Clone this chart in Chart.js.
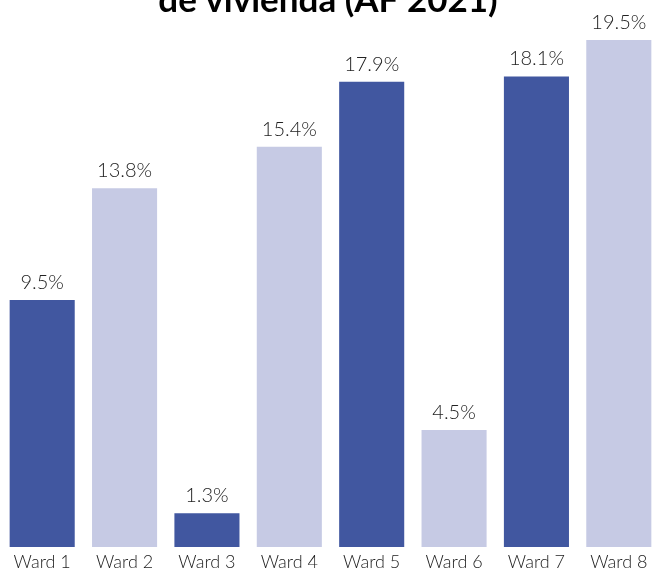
<!DOCTYPE html>
<html>
<head>
<meta charset="utf-8">
<script src="https://cdn.jsdelivr.net/npm/chart.js@4"></script>
<style>
  html, body { margin: 0; padding: 0; background: #fff; overflow: hidden; }
  #wrap { position: absolute; left: 0; top: 0; width: 660px; height: 571px; }
</style>
</head>
<body>
<div id="wrap"><canvas id="graphCanvas"></canvas></div>
<script>
var wards = ['Ward 1', 'Ward 2', 'Ward 3', 'Ward 4', 'Ward 5', 'Ward 6', 'Ward 7', 'Ward 8'];
var shares = [9.5, 13.8, 1.3, 15.4, 17.9, 4.5, 18.1, 19.5];
var titleText = 'de vivienda (AF 2021)';

var darkBlue = '#4157a0';
var lightBlue = '#c6cae4';
var barColors = [];
for (var i in wards) {
	barColors.push(i % 2 == 0 ? darkBlue : lightBlue);
}

// value labels on top of each bar + the clipped title
var labelPlugin = {
	id: 'labels',
	afterDatasetsDraw: function (chart) {
		var ctx = chart.ctx;
		var meta = chart.getDatasetMeta(0);
		ctx.save();
		ctx.fillStyle = '#222';
		ctx.font = '300 20px Lato';
		ctx.textAlign = 'center';
		ctx.textBaseline = 'alphabetic';
		meta.data.forEach(function (bar, i) {
			ctx.fillText(shares[i].toFixed(1) + '%', bar.x, bar.y - 11);
		});
		ctx.font = 'bold 35px Lato';
		ctx.fillStyle = '#000';
		ctx.fillText(titleText, 328, 12);
		ctx.restore();
	}
};

var chartdata = {
	labels: wards,
	datasets: [
		{
			data: shares,
			backgroundColor: barColors,
			hoverBackgroundColor: barColors,
			categoryPercentage: 1,
			barPercentage: 0.79
		}
	]
};

var graphTarget = document.getElementById('graphCanvas');

var barGraph = new Chart(graphTarget, {
	type: 'bar',
	data: chartdata,
	plugins: [labelPlugin],
	options: {
		responsive: true,
		maintainAspectRatio: false,
		animation: false,
		layout: { padding: { left: 1, right: 0, top: 0, bottom: 0 } },
		plugins: {
			legend: { display: false },
			tooltip: { enabled: false }
		},
		scales: {
			x: {
				grid: { display: false },
				border: { display: false },
				afterFit: function (scale) { scale.height = 24; },
				ticks: {
					color: '#222',
					font: { family: 'Lato', size: 18, weight: 300 },
					padding: -4
				}
			},
			y: {
				display: false,
				min: 0,
				max: 21.04
			}
		}
	}
});
</script>
</body>
</html>
